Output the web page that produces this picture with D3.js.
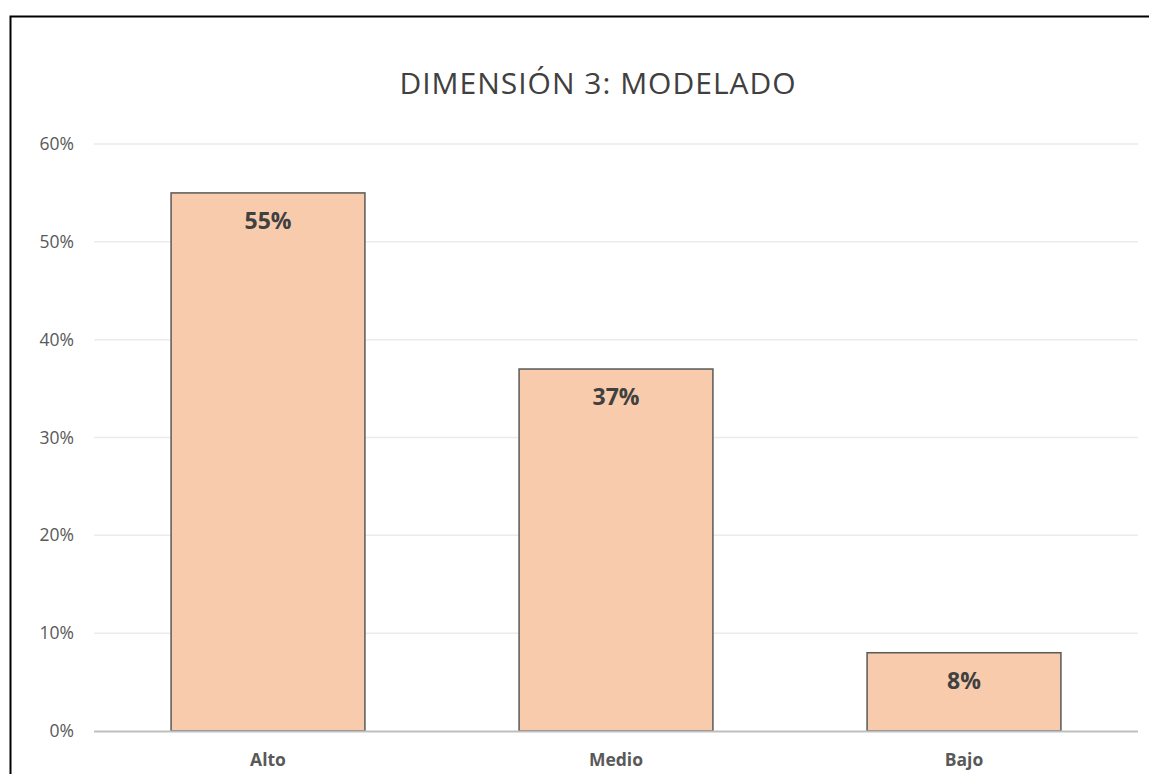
<!DOCTYPE html>
<html>
<head>
<meta charset="utf-8">
<script src="https://cdn.jsdelivr.net/npm/d3@7"></script>
<style>
  body { margin: 0; background: #fff; }
  text { font-family: "Open Sans", "Noto Sans", sans-serif; }
</style>
</head>
<body>
<script>
const categories = ["Alto", "Medio", "Bajo"];
const values = [0.55, 0.37, 0.08];
const yTicks = [0, 0.1, 0.2, 0.3, 0.4, 0.5, 0.6];
const title = "DIMENSIÓN 3: MODELADO";

const width = 1149;
const height = 774;
const margin = { top: 144, right: 11, bottom: 43, left: 94 };

const svg = d3.select("body").append("svg")
  .attr("width", width)
  .attr("height", height);

// outer frame
svg.append("rect")
  .attr("x", 10.5)
  .attr("y", 16.5)
  .attr("width", width)
  .attr("height", height)
  .attr("fill", "none")
  .attr("stroke", "#000")
  .attr("stroke-width", 2);

const x = d3.scaleBand()
  .domain(categories)
  .range([margin.left, width - margin.right])
  .paddingInner(0.443)
  .paddingOuter(0.2215);

const y = d3.scaleLinear()
  .domain([0, 0.6])
  .range([height - margin.bottom, margin.top]);

// gridlines
svg.append("g")
  .selectAll("line")
  .data(yTicks.slice(1))
  .enter()
    .append("line")
    .attr("x1", margin.left)
    .attr("x2", width - margin.right)
    .attr("y1", function (d) { return y(d); })
    .attr("y2", function (d) { return y(d); })
    .attr("stroke", "#ebebeb")
    .attr("stroke-width", 1.5);

// y labels
const yAxis = svg.append("g")
  .attr("transform", "translate(" + (margin.left - 20) + ",0)")
  .call(d3.axisLeft(y).tickValues(yTicks).tickFormat(d3.format(".0%")).tickSize(0).tickPadding(0));
yAxis.select(".domain").remove();
yAxis.attr("font-family", null).attr("font-size", null);
yAxis.selectAll("text")
  .attr("fill", "#595959")
  .style("font-size", "17.5px");

// bars
svg.append("g")
  .selectAll("rect")
  .data(values)
  .enter()
    .append("rect")
    .attr("x", function (d, i) { return x(categories[i]); })
    .attr("y", function (d) { return y(d); })
    .attr("width", x.bandwidth())
    .attr("height", function (d) { return y(0) - y(d); })
    .attr("fill", "#f8cbad")
    .attr("stroke", "#595959")
    .attr("stroke-width", 1.5);

// value labels
svg.append("g")
  .selectAll("text")
  .data(values)
  .enter()
    .append("text")
    .attr("x", function (d, i) { return x(categories[i]) + x.bandwidth() / 2; })
    .attr("y", function (d) { return y(d) + 36; })
    .attr("text-anchor", "middle")
    .style("font-size", "23px")
    .attr("font-weight", "bold")
    .attr("fill", "#404040")
    .text(function (d) { return d3.format(".0%")(d); });

// x axis line
svg.append("line")
  .attr("x1", margin.left)
  .attr("x2", width - margin.right)
  .attr("y1", y(0) + 0.5)
  .attr("y2", y(0) + 0.5)
  .attr("stroke", "#bfbfbf")
  .attr("stroke-width", 2);

// category labels
svg.append("g")
  .selectAll("text")
  .data(categories)
  .enter()
    .append("text")
    .attr("x", function (d) { return x(d) + x.bandwidth() / 2; })
    .attr("y", y(0) + 35)
    .attr("text-anchor", "middle")
    .style("font-size", "17.5px")
    .attr("font-weight", "bold")
    .attr("fill", "#595959")
    .text(function (d) { return d; });

// title
svg.append("text")
  .attr("x", 598)
  .attr("y", 94)
  .attr("text-anchor", "middle")
  .style("font-size", "30px")
  .style("letter-spacing", "1px")
  .attr("fill", "#404040")
  .text(title);
</script>
</body>
</html>
